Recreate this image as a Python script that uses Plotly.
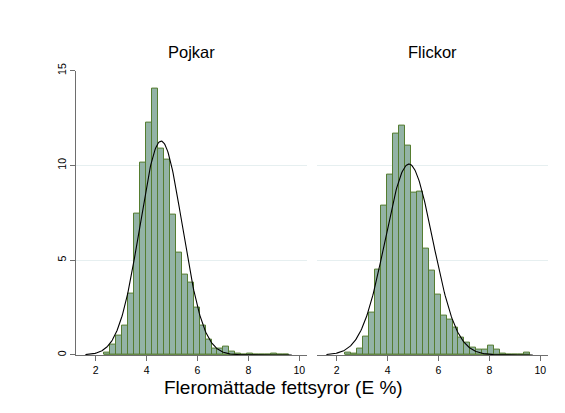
import numpy as np
import plotly.graph_objects as go

# Histogram bins (shared by both panels)
bin_start = 2.326
bin_width = 0.2347

# Percent per bin, Pojkar (boys)
pojkar_pct = [0.12, 0.57, 1.0, 1.57, 3.22, 7.47, 10.15, 12.24, 14.06, 10.86,
              10.29, 7.42, 5.39, 4.25, 3.82, 2.51, 1.57, 0.79, 0.33, 0.31,
              0.43, 0.2, 0.07, 0.0, 0.05, 0.0, 0.0, 0.0, 0.05, 0.0, 0.0]
# Percent per bin, Flickor (girls)
flickor_pct = [0.15, 0.07, 0.33, 0.98, 2.22, 4.51, 7.9, 9.54, 11.7, 12.12,
               11.07, 8.54, 8.61, 5.59, 4.44, 3.2, 2.08, 1.88, 1.45, 0.93,
               0.67, 0.38, 0.28, 0.28, 0.48, 0.28, 0.07, 0.0, 0.0, 0.0, 0.12]

# Fitted normal parameters
pojkar_mean, pojkar_sd = 4.57, 0.83
flickor_mean, flickor_sd = 4.84, 0.93
curve_min, curve_max = 1.6, 9.7

panel_titles = ["Pojkar", "Flickor"]
x_title = "Fleromättade fettsyror (E %)"
x_ticks = [2, 4, 6, 8, 10]
y_ticks = [0, 5, 10, 15]

FONT = "Liberation Sans, Arial, sans-serif"
FILL = "#93b3a6"
EDGE = "#557d30"
GRID = "#e6eff0"
AXIS = "#6e6e6e"

W, H = 565, 413
fig = go.Figure()

n = len(pojkar_pct)
centers = [bin_start + bin_width * (k + 0.5) for k in range(n)]
bin_end = bin_start + bin_width * n

def normal_pct(xs, m, s):
    return 100 * bin_width * np.exp(-0.5 * ((xs - m) / s) ** 2) / (s * np.sqrt(2 * np.pi))

xs = np.linspace(curve_min, curve_max, 300)

for i, (vals, m, s) in enumerate([(pojkar_pct, pojkar_mean, pojkar_sd),
                                  (flickor_pct, flickor_mean, flickor_sd)]):
    xa = "x" if i == 0 else "x2"
    ya = "y" if i == 0 else "y2"
    fig.add_trace(go.Bar(x=centers, y=vals, width=bin_width, xaxis=xa, yaxis=ya,
                         marker=dict(color=FILL, line=dict(color=EDGE, width=1)),
                         showlegend=False))
    fig.add_trace(go.Scatter(x=[bin_start, bin_end], y=[0, 0], mode="lines",
                             line=dict(color=EDGE, width=1.5), xaxis=xa, yaxis=ya,
                             showlegend=False))
    fig.add_trace(go.Scatter(x=xs, y=normal_pct(xs, m, s), mode="lines",
                             line=dict(color="black", width=1.1), xaxis=xa, yaxis=ya,
                             showlegend=False))

ybot = (H - 354.7) / H
ytop = (H - 64) / H
xr = [1.23, 10.3]
d1 = [76 / W, 307 / W]
d2 = [317 / W, 548 / W]

common_x = dict(range=xr, tickvals=x_ticks, ticks="outside", ticklen=5, tickcolor=AXIS,
                showline=True, linecolor=AXIS, linewidth=1, showgrid=False, zeroline=False,
                tickfont=dict(family=FONT, size=10.5, color="black"))
fig.update_layout(
    width=W, height=H, margin=dict(l=0, r=0, t=0, b=0),
    paper_bgcolor="white", plot_bgcolor="white", bargap=0, barmode="overlay",
    font=dict(family=FONT, color="black"),
    xaxis=dict(domain=d1, anchor="y", **common_x),
    xaxis2=dict(domain=d2, anchor="y2", **common_x),
    yaxis=dict(domain=[ybot, ytop], range=[0, 15], tickvals=y_ticks, ticks="outside",
               ticklen=5, tickcolor=AXIS, showline=True, linecolor=AXIS, linewidth=1,
               gridcolor=GRID, gridwidth=1, zeroline=False, tickangle=-90,
               tickfont=dict(family=FONT, size=10.5, color="black"), anchor="x"),
    yaxis2=dict(domain=[ybot, ytop], range=[0, 15], tickvals=y_ticks, showticklabels=False,
                ticks="", showline=False, gridcolor=GRID, gridwidth=1, zeroline=False,
                anchor="x2", matches="y"),
)

for title, dom in zip(panel_titles, [d1, d2]):
    fig.add_annotation(text=title, x=(dom[0] + dom[1]) / 2, y=(H - 45) / H,
                       xref="paper", yref="paper", showarrow=False,
                       font=dict(family=FONT, size=16.5, color="black"),
                       xanchor="center", yanchor="middle")
fig.add_annotation(text=x_title, x=283 / W, y=(H - 388) / H, xref="paper", yref="paper",
                   showarrow=False, font=dict(family=FONT, size=19, color="black"),
                   xanchor="center", yanchor="middle")

fig.write_html("out.html")
